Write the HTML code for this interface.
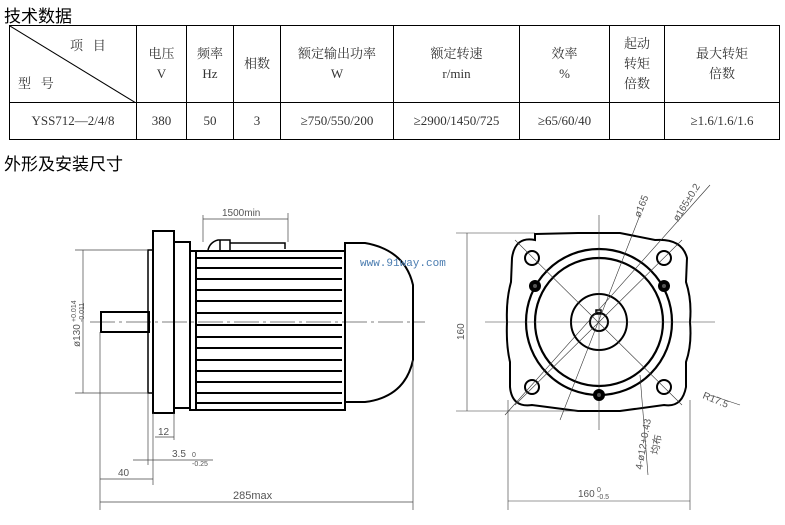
<!DOCTYPE html>
<html><head><meta charset="utf-8"><style>
body{margin:0;background:#fff;width:785px;height:525px;overflow:hidden;position:relative;font-family:"Liberation Serif","Noto Serif CJK SC",serif;}
.t{position:absolute;font-family:"Liberation Sans","Noto Sans CJK SC",sans-serif;font-size:17px;color:#000;}
table{position:absolute;left:9px;top:25px;border-collapse:collapse;font-size:13px;color:#333;}
td{border:1.5px solid #000;text-align:center;padding:0;line-height:20px;}
</style></head><body>
<div class="t" style="left:4px;top:2px">技术数据</div>
<table>
<tr style="height:77px">
<td style="width:126px;position:relative"><svg width="126" height="77" style="position:absolute;left:0;top:0"><line x1="0" y1="0" x2="126" y2="77" stroke="#000" stroke-width="1"/></svg><span style="position:absolute;left:60px;top:10px">项&nbsp;&nbsp;&nbsp;目</span><span style="position:absolute;left:8px;top:48px">型&nbsp;&nbsp;&nbsp;号</span></td>
<td style="width:49px">电压<br>V</td>
<td style="width:46px">频率<br>Hz</td>
<td style="width:46px">相数</td>
<td style="width:112px">额定输出功率<br>W</td>
<td style="width:125px">额定转速<br>r/min</td>
<td style="width:89px">效率<br>%</td>
<td style="width:54px">起动<br>转矩<br>倍数</td>
<td style="width:114px">最大转矩<br>倍数</td>
</tr>
<tr style="height:37px"><td>YSS712—2/4/8</td><td>380</td><td>50</td><td>3</td><td>≥750/550/200</td><td>≥2900/1450/725</td><td>≥65/60/40</td><td></td><td>≥1.6/1.6/1.6</td></tr>
</table>
<div class="t" style="left:4px;top:150px">外形及安装尺寸</div>
<svg width="785" height="525" style="position:absolute;left:0;top:0" font-family="Liberation Sans, sans-serif">
<g stroke="#000" fill="none">
<!-- side view -->
<rect x="101" y="312" width="48" height="20" stroke-width="2"/>
<rect x="148" y="250" width="5" height="143" stroke-width="1.5"/>
<rect x="153" y="231" width="21" height="182" stroke-width="2"/>
<rect x="174" y="242" width="16" height="166" stroke-width="2"/>
<rect x="190" y="251" width="155" height="159" stroke-width="2"/>
<line x1="196" y1="251" x2="196" y2="410" stroke-width="2"/>
<g stroke-width="2">
<line x1="196" y1="258" x2="342" y2="258"/><line x1="196" y1="268" x2="342" y2="268"/><line x1="196" y1="279" x2="342" y2="279"/><line x1="196" y1="290" x2="342" y2="290"/><line x1="196" y1="301" x2="342" y2="301"/><line x1="196" y1="313" x2="342" y2="313"/><line x1="196" y1="325" x2="342" y2="325"/><line x1="196" y1="337" x2="342" y2="337"/><line x1="196" y1="348" x2="342" y2="348"/><line x1="196" y1="360" x2="342" y2="360"/><line x1="196" y1="371" x2="342" y2="371"/><line x1="196" y1="382" x2="342" y2="382"/><line x1="196" y1="393" x2="342" y2="393"/><line x1="196" y1="403" x2="342" y2="403"/>
</g>
<path d="M345 243 L365 243 Q405 250 413 285 L413 360 Q405 397 365 402 L345 402 Z" stroke-width="2"/>
<path d="M208 250 Q210 242 218 240 L230 240 L230 250 M220 240 L220 250 M230 243 L285 243 L285 249" stroke-width="1.5"/>
<line x1="90" y1="322" x2="425" y2="322" stroke-width="0.6" stroke-dasharray="25,4,3,4"/>
<g stroke-width="0.7" stroke="#444">
<line x1="203" y1="215" x2="203" y2="242"/><line x1="288" y1="213" x2="288" y2="242"/><line x1="203" y1="219" x2="288" y2="219"/>
<line x1="75" y1="250" x2="148" y2="250"/><line x1="75" y1="393" x2="148" y2="393"/><line x1="83" y1="250" x2="83" y2="393"/>
<line x1="100" y1="332" x2="100" y2="510"/><line x1="413" y1="360" x2="413" y2="510"/>
<line x1="148" y1="393" x2="148" y2="465"/><line x1="153" y1="413" x2="153" y2="485"/><line x1="174" y1="413" x2="174" y2="440"/>
<line x1="155" y1="437" x2="174" y2="437"/>
<line x1="133" y1="460" x2="213" y2="460"/>
<line x1="100" y1="479" x2="153" y2="479"/>
<line x1="100" y1="502" x2="413" y2="502"/>
</g>
</g>
<g font-size="10" fill="#555">
<text x="222" y="216">1500min</text>
<text x="158" y="435">12</text>
<text x="172" y="457">3.5</text><text x="192" y="457" font-size="7">0</text><text x="192" y="466" font-size="7">-0.25</text>
<text x="118" y="476">40</text>
<text x="233" y="499" font-size="11">285max</text>
<text transform="translate(80,347) rotate(-90)">ø130</text><text transform="translate(76,322) rotate(-90)" font-size="7">+0.014</text><text transform="translate(84,322) rotate(-90)" font-size="7">-0.011</text>
<text x="360" y="266" fill="#4a7cb0" font-family="Liberation Mono, monospace" font-size="11">www.91way.com</text>
</g>
<!-- front view -->
<g stroke="#000" fill="none">
<path d="M535 234 L578 233 L620 233 L655 240 Q682 238 687 258 L686 282 Q692 300 690 322 Q692 345 686 362 L686 387 Q682 408 664 405 L620 411 L578 411 L532 405 Q512 408 510 387 L510 362 Q506 345 507 322 Q506 300 511 282 L512 258 Q515 236 535 240 Z" stroke-width="2"/>
<circle cx="599" cy="322" r="73" stroke-width="2.2"/>
<circle cx="599" cy="322" r="64" stroke-width="2.2"/>
<circle cx="599" cy="322" r="28" stroke-width="2"/>
<circle cx="599" cy="322" r="9" stroke-width="2"/>
<rect x="596" y="310" width="5" height="4" stroke-width="1.5"/>
<circle cx="532" cy="258" r="7" stroke-width="2"/><circle cx="664" cy="258" r="7" stroke-width="2"/>
<circle cx="532" cy="387" r="7" stroke-width="2"/><circle cx="664" cy="387" r="7" stroke-width="2"/>
<g stroke-width="0.6" stroke="#333">
<line x1="485" y1="322" x2="715" y2="322"/><line x1="599" y1="215" x2="599" y2="430"/>
<line x1="515" y1="240" x2="682" y2="405"/><line x1="682" y1="240" x2="515" y2="405"/>
<line x1="560" y1="420" x2="640" y2="215"/><line x1="505" y1="415" x2="710" y2="185"/>
<line x1="640" y1="375" x2="648" y2="475"/>
<line x1="710" y1="395" x2="740" y2="405"/>
<line x1="456" y1="233" x2="535" y2="233"/><line x1="456" y1="411" x2="580" y2="411"/><line x1="467" y1="233" x2="467" y2="411"/>
<line x1="508" y1="400" x2="508" y2="510"/><line x1="690" y1="400" x2="690" y2="510"/><line x1="508" y1="501" x2="690" y2="501"/>
</g>
</g>
<circle cx="535" cy="286" r="6" fill="#000"/><circle cx="664" cy="286" r="6" fill="#000"/><circle cx="599" cy="395" r="6" fill="#000"/>
<circle cx="535" cy="286" r="2" fill="#555"/><circle cx="664" cy="286" r="2" fill="#555"/><circle cx="599" cy="395" r="2" fill="#555"/>
<g font-size="10" fill="#555">
<text transform="translate(640,218) rotate(-68)">ø165</text>
<text transform="translate(678,222) rotate(-58)">ø165±0.2</text>
<text transform="translate(702,398) rotate(22)">R17.5</text>
<text transform="translate(642,470) rotate(-80)">4-ø12+0.43</text>
<text transform="translate(658,455) rotate(-80)" font-family="Noto Sans CJK SC, sans-serif">均布</text>
<text transform="translate(464,340) rotate(-90)">160</text>
<text x="578" y="497">160</text><text x="597" y="492" font-size="7">0</text><text x="597" y="499" font-size="7">-0.5</text>
</g>
</svg>
</body></html>
